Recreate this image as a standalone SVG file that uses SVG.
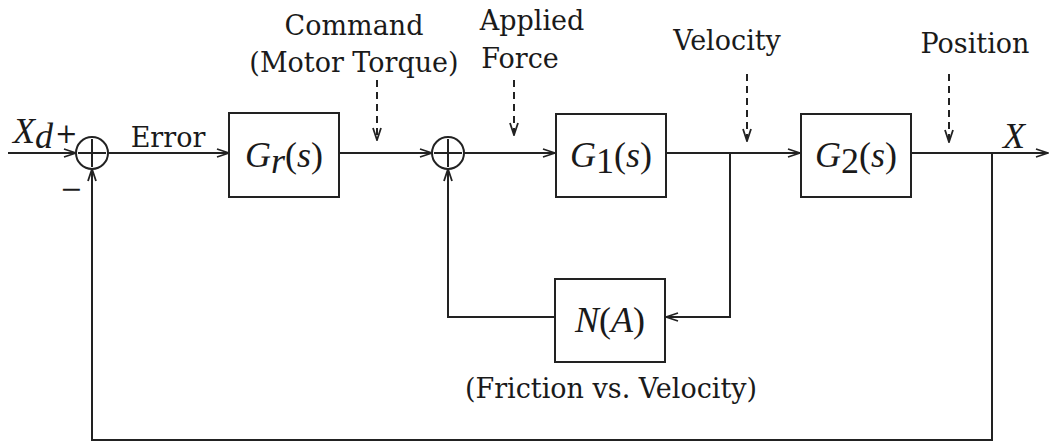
<svg xmlns="http://www.w3.org/2000/svg" width="1051" height="446" viewBox="0 0 1051 446">
<style>
.ln{fill:none;stroke:#222;stroke-width:2}
.ds{fill:none;stroke:#222;stroke-width:2;stroke-dasharray:7,5}
.bx{fill:#fff;stroke:#222;stroke-width:2}
.t{font-family:"DejaVu Serif","Liberation Serif",serif;font-size:27px;fill:#1a1a1a}
.m{font-family:"Liberation Serif","DejaVu Serif",serif;font-size:36px;font-style:italic;fill:#1a1a1a}
.ms{font-family:"Liberation Serif","DejaVu Serif",serif;font-size:36px;fill:#1a1a1a}
</style>
<defs>
<marker id="a" viewBox="0 0 14 10" refX="13" refY="5" markerWidth="14" markerHeight="10" markerUnits="userSpaceOnUse" orient="auto">
<polyline points="1,1 13,5 1,9" fill="none" stroke="#222" stroke-width="1.8"/>
</marker>
</defs>
<rect width="1051" height="446" fill="#fff"/>
<g id="connectors">
<line class="ln" x1="8" y1="153" x2="76" y2="153" marker-end="url(#a)"/>
<line class="ln" x1="108" y1="153" x2="229" y2="153" marker-end="url(#a)"/>
<line class="ln" x1="339" y1="153" x2="432" y2="153" marker-end="url(#a)"/>
<line class="ln" x1="464" y1="153" x2="555" y2="153" marker-end="url(#a)"/>
<line class="ln" x1="666" y1="153" x2="800" y2="153" marker-end="url(#a)"/>
<line class="ln" x1="911" y1="153" x2="1048" y2="153" marker-end="url(#a)"/>
<polyline class="ln" points="730,153 730,317 666,317" marker-end="url(#a)"/>
<polyline class="ln" points="555,317 448,317 448,169" marker-end="url(#a)"/>
<polyline class="ln" points="992,153 992,440 92,440 92,169" marker-end="url(#a)"/>
<line class="ds" x1="377" y1="80" x2="377" y2="140" marker-end="url(#a)"/>
<line class="ds" x1="514" y1="80" x2="514" y2="135" marker-end="url(#a)"/>
<line class="ds" x1="747" y1="74" x2="747" y2="141" marker-end="url(#a)"/>
<line class="ds" x1="949" y1="74" x2="949" y2="142" marker-end="url(#a)"/>
</g>
<g id="sum1">
<circle class="bx" cx="92" cy="153" r="16"/>
<line class="ln" x1="78" y1="153" x2="106" y2="153"/>
<line class="ln" x1="92" y1="139" x2="92" y2="167"/>
</g>
<g id="sum2">
<circle class="bx" cx="448" cy="153" r="16"/>
<line class="ln" x1="434" y1="153" x2="462" y2="153"/>
<line class="ln" x1="448" y1="139" x2="448" y2="167"/>
</g>
<g id="Gr">
<rect class="bx" x="229" y="113" width="110" height="84"/>
<text x="284" y="167" text-anchor="middle"><tspan class="m">G</tspan><tspan class="m" font-size="24" dy="6">r</tspan><tspan class="ms" dy="-6">(</tspan><tspan class="m">s</tspan><tspan class="ms">)</tspan></text>
</g>
<g id="G1">
<rect class="bx" x="556" y="114" width="110" height="83"/>
<text x="611" y="167" text-anchor="middle"><tspan class="m">G</tspan><tspan class="ms" font-size="24" dy="6">1</tspan><tspan class="ms" dy="-6">(</tspan><tspan class="m">s</tspan><tspan class="ms">)</tspan></text>
</g>
<g id="G2">
<rect class="bx" x="801" y="114" width="110" height="83"/>
<text x="856" y="167" text-anchor="middle"><tspan class="m">G</tspan><tspan class="ms" font-size="24" dy="6">2</tspan><tspan class="ms" dy="-6">(</tspan><tspan class="m">s</tspan><tspan class="ms">)</tspan></text>
</g>
<g id="NA">
<rect class="bx" x="555" y="279" width="110" height="83"/>
<text x="610" y="332" text-anchor="middle"><tspan class="m">N</tspan><tspan class="ms">(</tspan><tspan class="m">A</tspan><tspan class="ms">)</tspan></text>
</g>
<g id="labels">
<text x="13" y="143"><tspan class="m" font-size="34">X</tspan><tspan class="m" font-size="22" dy="5">d</tspan></text>
<text class="t" x="55" y="143" font-size="26">+</text>
<text class="t" x="60" y="198" font-size="28">−</text>
<text class="t" x="168" y="147" text-anchor="middle">Error</text>
<text class="t" x="354" y="35" text-anchor="middle">Command</text>
<text class="t" x="354" y="72" text-anchor="middle">(Motor Torque)</text>
<text class="t" x="532" y="30" text-anchor="middle">Applied</text>
<text class="t" x="520" y="68" text-anchor="middle">Force</text>
<text class="t" x="727" y="50" text-anchor="middle">Velocity</text>
<text class="t" x="975" y="53" text-anchor="middle">Position</text>
<text class="m" x="1003" y="148" font-size="34">X</text>
<text class="t" x="611" y="398" text-anchor="middle">(Friction vs. Velocity)</text>
</g>
</svg>
